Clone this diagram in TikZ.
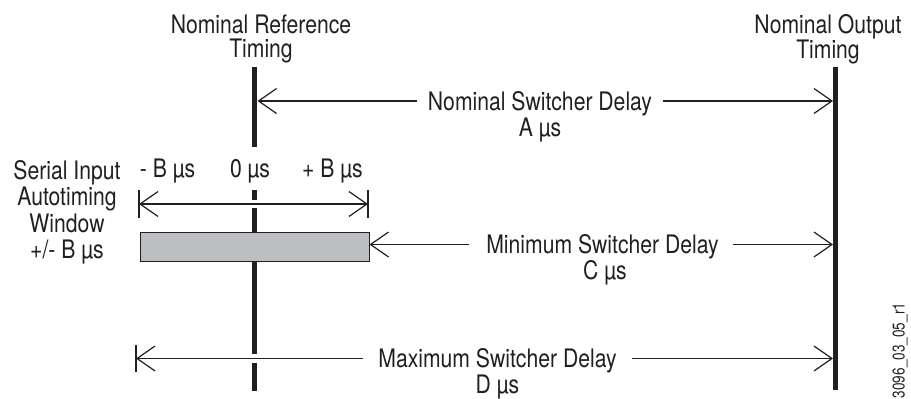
\documentclass[tikz,border=0pt]{standalone}
\usepackage{fontspec}
\setmainfont[FakeStretch=0.83]{TeX Gyre Heros}
\newfontfamily\idfont[FakeStretch=0.8]{TeX Gyre Heros}
\usetikzlibrary{arrows.meta}
\definecolor{ink}{HTML}{231F20}
\definecolor{boxgray}{HTML}{BCBEC0}
\begin{document}
\begin{tikzpicture}[x=1pt,y=-1pt,
  every node/.style={text=ink, inner sep=0pt, font=\fontsize{25.5}{24}\selectfont},
  capline/.style={text height=18.3pt, text depth=0pt},
  conn/.style={draw=ink, line width=1.2pt},
  onetip/.style={-{Straight Barb[length=18pt,width=25pt]}},
  bothtips/.style={{Straight Barb[length=18pt,width=25pt]}-{Straight Barb[length=18pt,width=25pt]}},
  timeline/.style={draw=ink, line width=4.5pt},
  endbar/.style={draw=ink, line width=1.2pt}]
\useasboundingbox (0,0) rectangle (911,399);

% top labels
\node[align=center, anchor=north] (nrt) at (261,14.4) {Nominal Reference\\Timing};
\node[align=center, anchor=north] (nout) at (828,14.4) {Nominal Output\\Timing};

% time lines
\draw[timeline] (254.5,67) -- (254.5,147) (254.5,190) -- (254.5,200)
  (254.5,208) -- (254.5,232) (254.5,261) -- (254.5,354) (254.5,363) -- (254.5,391);
\draw[timeline] (835.5,67) -- (835.5,390);
\coordinate (R) at (257.5,0);
\coordinate (O) at (833,0);

% window
\node[draw=ink, fill=boxgray, line width=1pt, minimum width=229pt, minimum height=29pt] (win) at (254.5,246.5) {};
\coordinate (wl) at (139,204);
\coordinate (wr) at (368,204);
\draw[conn,bothtips] (wl) -- (wr);
\draw[endbar] ([yshift=-14pt]wl) -- ([yshift=14pt]wl);
\draw[endbar] ([yshift=-14pt]wr) -- ([yshift=14pt]wr);
\node[capline] (mb) at (167.5,168.5) {- B µs};
\node[capline] (zb) at (250,168.5) {0 µs};
\node[capline] (pb) at (332.5,168.5) {+ B µs};
\node[align=center, anchor=north, font=\fontsize{25.5}{26.3}\selectfont] (siaw) at (67,160.4) {Serial Input\\Autotiming\\Window\\+/- B µs};

% nominal delay
\node[capline] (nsd) at (540,101) {Nominal Switcher Delay};
\node[capline] (nsdv) at (540,127) {A µs};
\draw[conn,onetip] ([xshift=-11pt]nsd.west) -- (nsd.west -| R);
\draw[conn,onetip] ([xshift=11pt]nsd.east) -- (nsd.east -| O);

% minimum delay
\node[capline] (msd) at (602.5,244.5) {Minimum Switcher Delay};
\node[capline] (msdv) at (605,270) {C µs};
\draw[conn,onetip] ([xshift=-17pt]msd.west) -- (msd.west -| win.east);
\draw[conn,onetip] ([xshift=14pt]msd.east) -- (msd.east -| O);

% maximum delay
\node[capline] (xsd) at (497.5,358.5) {Maximum Switcher Delay};
\node[capline] (xsdv) at (497.5,384.5) {D µs};
\coordinate (xl) at (136,358.5);
\draw[conn,onetip] ([xshift=-15pt]xsd.west) -- (xl);
\draw[endbar] ([yshift=-13.5pt]xl) -- ([yshift=13.5pt]xl);
\draw[conn,onetip] ([xshift=15pt]xsd.east) -- (xsd.east -| O);

% figure id
\node[rotate=90, font=\idfont\fontsize{17}{17}\selectfont] (code) at (900,350.5) {3096\_03\_05\_r1};
\end{tikzpicture}
\end{document}
